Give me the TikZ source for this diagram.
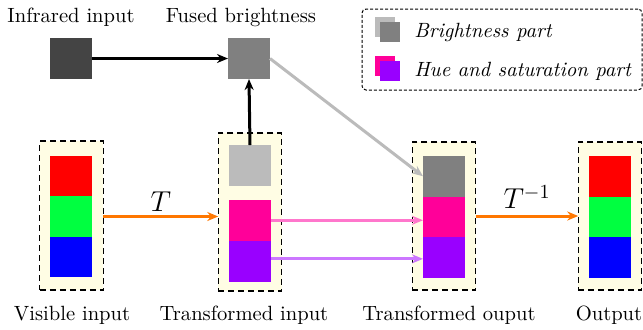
\documentclass[tikz,border=0pt]{standalone}
\usetikzlibrary{arrows.meta,calc}
\definecolor{cream}{RGB}{255,253,228}
\definecolor{irgray}{RGB}{68,68,68}
\definecolor{fgray}{RGB}{128,128,128}
\definecolor{lgray}{RGB}{187,187,187}
\definecolor{cred}{RGB}{255,0,0}
\definecolor{cgreen}{RGB}{0,255,64}
\definecolor{cblue}{RGB}{0,0,255}
\definecolor{cmag}{RGB}{255,0,153}
\definecolor{cpur}{RGB}{153,0,255}
\definecolor{lpink}{RGB}{255,119,204}
\definecolor{lpur}{RGB}{204,119,255}
\definecolor{corange}{RGB}{255,119,0}
\begin{document}
\begin{tikzpicture}[x=0.5pt,y=-0.5pt,
  blk/.style={draw=none,rectangle,inner sep=0pt,outer sep=0pt,minimum width=21pt,minimum height=20.25pt,anchor=north west},
  sq/.style={draw=none,rectangle,inner sep=0pt,outer sep=0pt,minimum width=21pt,minimum height=20.5pt},
  panel/.style={draw,fill=cream,dash pattern=on 3pt off 2pt,line width=0.7pt,rectangle,inner sep=0pt,outer sep=0pt,minimum width=31.75pt},
  lbl/.style={anchor=base,inner sep=0pt,font=\fontsize{10.3pt}{12pt}\selectfont},
  arr/.style={line width=1.5pt,-{Stealth[length=5.5pt,width=4.5pt]}},
  mlbl/.style={text=black,font=\Large},
  leg/.style={draw=none,rectangle,inner sep=0pt,minimum size=10pt}]
\useasboundingbox (0,0) rectangle (643,329);
% panels
\node[panel,minimum height=74.5pt] (vbox) at (71.5,215.5) {};
\node[panel,minimum height=79pt] (tbox) at (250,212) {};
\node[panel,minimum height=74pt] (obox) at (444,216) {};
\node[panel,minimum height=74pt] (outbox) at (610,216) {};
% top squares
\node[sq,fill=irgray] (ir) at (71,58.5) {};
\node[sq,fill=fgray] (fused) at (249,58.5) {};
% visible blocks
\node[blk,fill=cred] (vr) at (50,156) {};
\node[blk,fill=cgreen] (vg) at (50,196) {};
\node[blk,fill=cblue] (vb) at (50,236.5) {};
% transformed input
\node[blk,fill=lgray] (tgray) at (229,145) {};
\node[blk,fill=cmag] (tmag) at (229,200) {};
\node[blk,fill=cpur] (tpur) at (229,241) {};
% transformed output
\node[blk,fill=fgray] (ogray) at (423,156) {};
\node[blk,fill=cmag] (omag) at (423,197) {};
\node[blk,fill=cpur] (opur) at (423,237) {};
% output
\node[blk,fill=cred] (outr) at (589,156) {};
\node[blk,fill=cgreen] (outg) at (589,196.5) {};
\node[blk,fill=cblue] (outb) at (589,237) {};
% labels
\node[lbl] (l1) at (71,22) {Infrared input};
\node[lbl] (l2) at (241,22) {Fused brightness};
\node[lbl] (l3) at (72,320) {Visible input};
\node[lbl] (l4) at (244,320) {Transformed input};
\node[lbl] (l5) at (449,320) {Transformed ouput};
\node[lbl] (l6) at (609,320) {Output};
% arrows
\draw[arr,black] (ir.east) -- (fused.west);
\draw[arr,black] (tgray.north) -- (fused.south);
\draw[arr,lgray] (fused.east) -- (ogray.west);
\draw[arr,corange] ([yshift=-0.5pt]vbox.east) -- ([yshift=-0.5pt]vbox.east -| tbox.west) node[midway,above=-1.5pt,mlbl] (t1) {$T$};
\draw[arr,corange] (obox.east) -- (outbox.west) node[midway,above=-0.5pt,mlbl] (t2) {$T^{-1}$};
\draw[arr,lpink] (tmag.east) -- (tmag.east -| omag.west);
\draw[arr,lpur] ([yshift=1.2pt]tpur.east) -- ([yshift=1.2pt]tpur.east -| opur.west);
% legend
\node[draw,dash pattern=on 1.5pt off 1pt,line width=0.5pt,rounded corners=2pt,rectangle,minimum width=140pt,minimum height=40.5pt,inner sep=0pt] (legend) at (502,49.5) {};
\node[leg,fill=lgray,anchor=north west] (lg1) at (375,17) {};
\node[leg,fill=fgray,anchor=north west] (lg2) at (380,22) {};
\node[leg,fill=cmag,anchor=north west] (lg3) at (375,56) {};
\node[leg,fill=cpur,anchor=north west] (lg4) at (380,61) {};
\node[anchor=base west,inner sep=0pt,font=\fontsize{10.3pt}{12pt}\selectfont\itshape] (lt1) at (414,37) {Brightness part};
\node[anchor=base west,inner sep=0pt,font=\fontsize{10.3pt}{12pt}\selectfont\itshape] (lt2) at (414,76) {Hue and saturation part};
\end{tikzpicture}
\end{document}
